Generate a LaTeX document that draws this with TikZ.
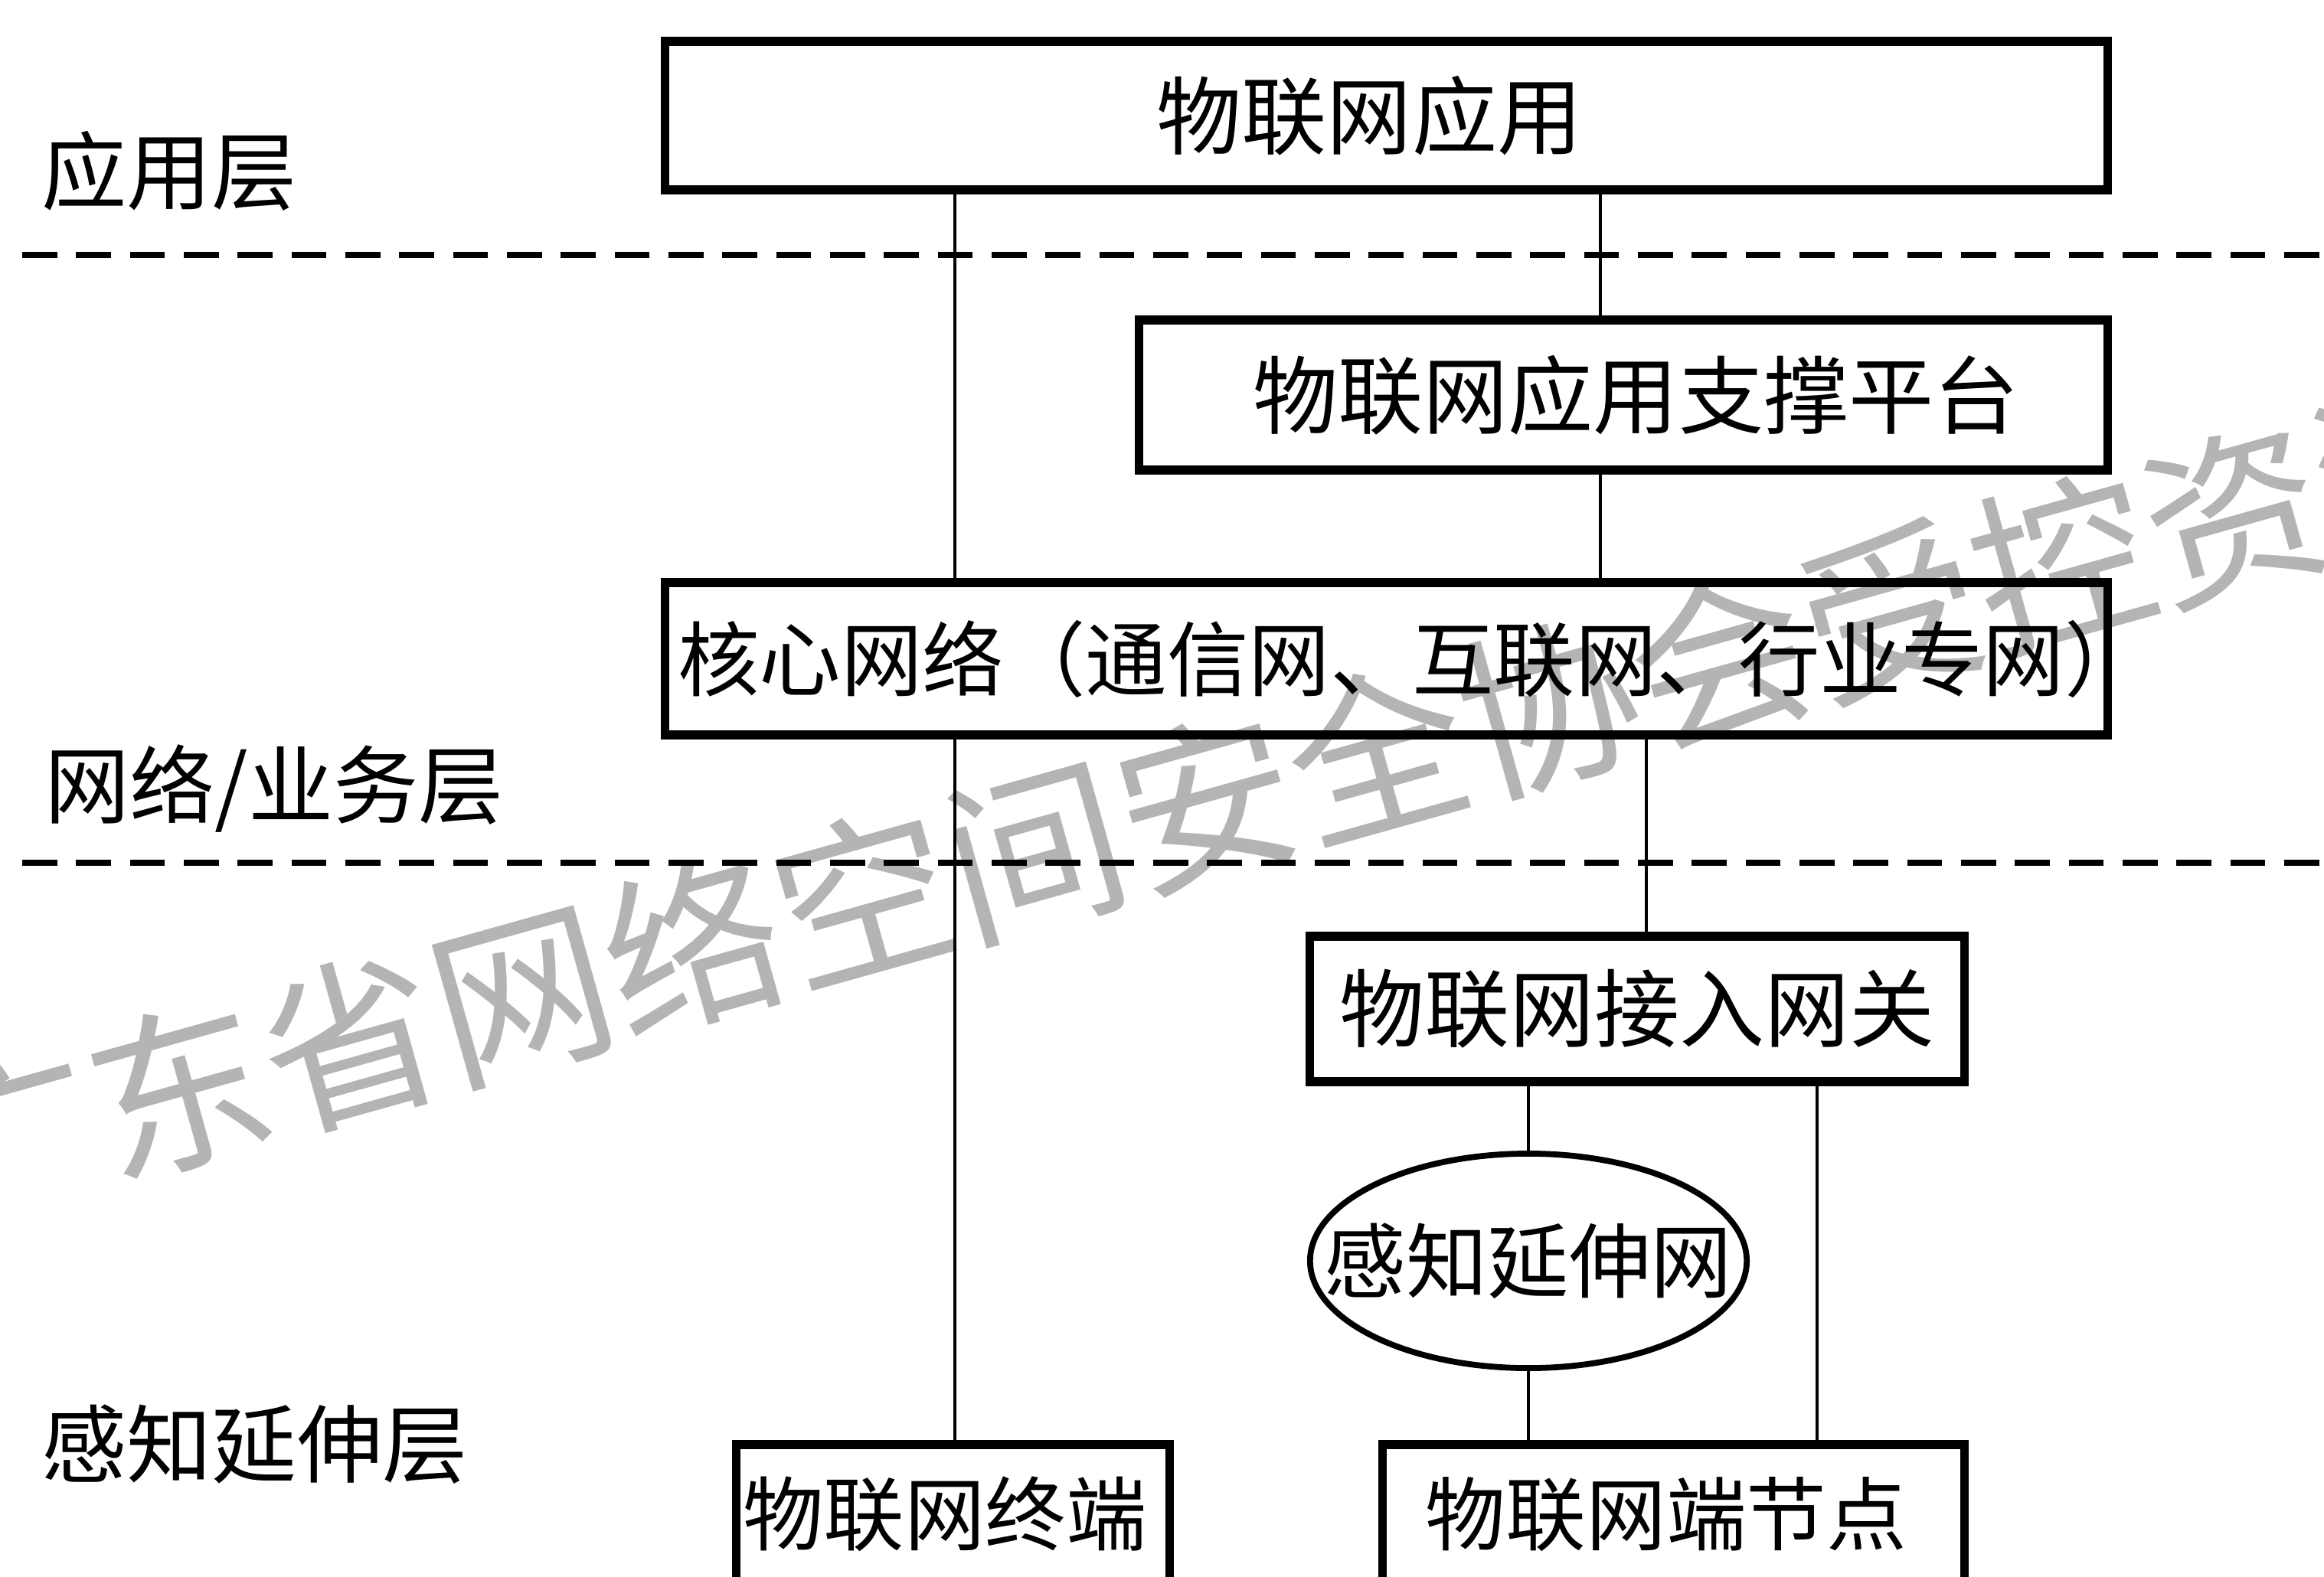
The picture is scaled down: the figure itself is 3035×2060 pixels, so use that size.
\documentclass[tikz,border=0pt]{standalone}
\usepackage{fontspec}
\newfontfamily\cjk{Noto Sans CJK SC}
\usetikzlibrary{shapes.geometric}
\begin{document}
\begin{tikzpicture}[x=0.01cm,y=-0.01cm,
  boxstyle/.style={draw, line width=3.2pt, inner sep=0pt, outer sep=0pt, font=\cjk\fontsize{31.6}{36}\selectfont},
  ellstyle/.style={draw, ellipse, line width=2.2pt, inner sep=0pt, outer sep=0pt},
  ellfont/.style={font=\cjk\fontsize{30.3}{36}\selectfont, inner sep=0pt},
  conn/.style={line width=1.2pt},
  layerlabel/.style={anchor=west, inner sep=0pt, font=\cjk\fontsize{31.6}{36}\selectfont},
  sepline/.style={line width=2.3pt, dash pattern=on 13pt off 7pt},
  wmark/.style={text=wmgray, inner sep=0pt, font=\cjk\fontsize{66}{70}\selectfont}
]
\definecolor{wmgray}{RGB}{180,180,180}
\useasboundingbox (0,0) rectangle (3035,2060);
\fill[white] (0,0) rectangle (3035,2060);

% watermark
\node[wmark, rotate=15.65] (wm) at (1575,1048) {广东省网络空间安全协会受控资源};

% separators
\coordinate (s1a) at (29,333);
\coordinate (s1b) at (3035,333);
\coordinate (s2a) at (29,1127);
\coordinate (s2b) at (3035,1127);
\draw[sepline] (s1a) -- (s1b);
\draw[sepline] (s2a) -- (s2b);

% layer labels
\node[layerlabel] (l1) at (54,223) {应用层};
\node[layerlabel] (l2) at (58,1030) {网络/业务层};
\node[layerlabel] (l3) at (54,1887) {感知延伸层};

% boxes
\node[boxstyle, minimum width=18.83cm, minimum height=1.94cm] (app) at (1810.5,151) {\hspace*{-0.44cm}物联网应用};
\node[boxstyle, minimum width=12.64cm, minimum height=1.96cm] (plat) at (2120,516) {\hspace*{0.33cm}物联网应用支撑平台};
\node[boxstyle, minimum width=18.83cm, minimum height=1.99cm, font=\cjk\fontsize{30.3}{36}\selectfont] (core) at (1810.5,860.5) {\makebox[0pt]{\hspace*{0.67cm}核心网络（通信网、互联网、行业专网）}};
\node[boxstyle, minimum width=8.54cm, minimum height=1.90cm] (gw) at (2138,1318) {物联网接入网关};
\node[ellstyle, minimum width=5.70cm, minimum height=2.80cm, label={[ellfont]center:感知延伸网}] (sense) at (1996,1647) {};
\node[boxstyle, minimum width=5.65cm, minimum height=1.82cm, font=\cjk\fontsize{30}{36}\selectfont] (term) at (1244.5,1978) {\hspace*{-0.21cm}物联网终端};
\node[boxstyle, minimum width=7.59cm, minimum height=1.82cm, font=\cjk\fontsize{29.8}{36}\selectfont] (node) at (2185.5,1978) {\hspace*{-0.19cm}物联网端节点};

% x references for connectors
\coordinate (xa) at (1247,0);
\coordinate (xb) at (2090,0);
\coordinate (xc) at (2150,0);
\coordinate (xd) at (1996,0);
\coordinate (xe) at (2373,0);

% connectors
\draw[conn] (app.south -| xa) -- (core.north -| xa);
\draw[conn] (core.south -| xa) -- (term.north -| xa);
\draw[conn] (app.south -| xb) -- (plat.north -| xb);
\draw[conn] (plat.south -| xb) -- (core.north -| xb);
\draw[conn] (core.south -| xc) -- (gw.north -| xc);
\draw[conn] (gw.south -| xd) -- (sense.north);
\draw[conn] (sense.south) -- (node.north -| xd);
\draw[conn] (gw.south -| xe) -- (node.north -| xe);
\end{tikzpicture}
\end{document}
